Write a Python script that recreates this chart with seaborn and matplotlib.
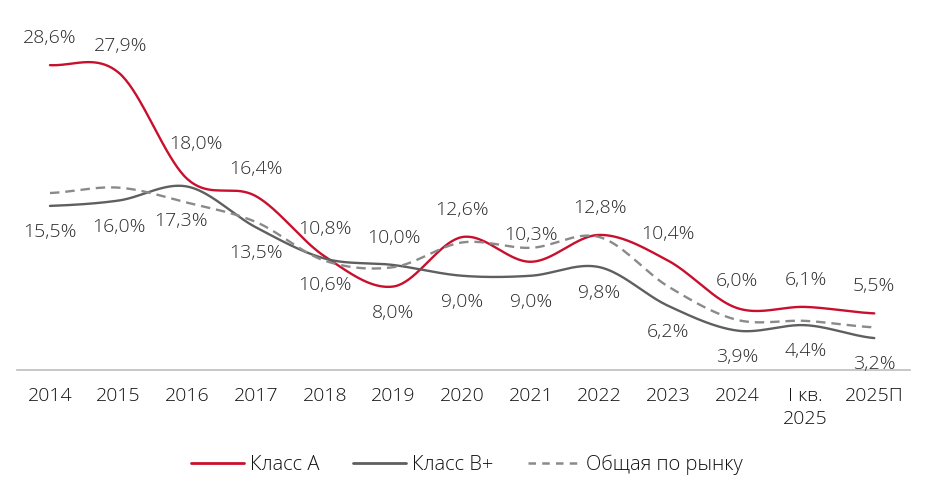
import numpy as np
import pandas as pd
import matplotlib
matplotlib.use("Agg")
import matplotlib.pyplot as plt
import seaborn as sns
from matplotlib.lines import Line2D

categories = ["2014", "2015", "2016", "2017", "2018", "2019", "2020", "2021",
              "2022", "2023", "2024", "I кв.\n2025", "2025П"]
class_a = [28.6, 27.9, 18.0, 16.4, 10.8, 8.0, 12.6, 10.3, 12.8, 10.4, 6.0, 6.1, 5.5]
class_b = [15.5, 16.0, 17.3, 13.5, 10.6, 10.0, 9.0, 9.0, 9.8, 6.2, 3.9, 4.4, 3.2]
market = [16.7, 17.2, 15.8, 14.0, 10.4, 9.8, 12.1, 11.6, 12.6, 8.0, 4.9, 4.8, 4.2]
series_names = ["Класс А", "Класс В+", "Общая по рынку"]

RED = "#c8102e"
GRAY = "#5f5f5f"
DASH = "#8a8a8a"

# label nudges (pixels) for the upper / lower value labels
up_nudge = {1: (2, 0), 2: (9, 8)}
lo_nudge = {2: (-6, -8)}


def smooth(y, n=40):
    """Catmull-Rom smoothing (like Excel's smoothed line) for drawing."""
    y = np.asarray(y, float)
    p = np.concatenate([[y[0]], y, [y[-1]]])
    xs, ys = [], []
    for i in range(len(y) - 1):
        p0, p1, p2, p3 = p[i], p[i + 1], p[i + 2], p[i + 3]
        m1 = (p2 - p0) / 2
        m2 = (p3 - p1) / 2
        t = np.linspace(0, 1, n, endpoint=(i == len(y) - 2))
        h00 = 2 * t**3 - 3 * t**2 + 1
        h10 = t**3 - 2 * t**2 + t
        h01 = -2 * t**3 + 3 * t**2
        h11 = t**3 - t**2
        xs.append(i + t)
        ys.append(h00 * p1 + h10 * m1 + h01 * p2 + h11 * m2)
    return np.concatenate(xs), np.concatenate(ys)


sns.set_theme(style="white")
plt.rcParams["font.family"] = ["Open Sans", "DejaVu Sans"]

fig = plt.figure(figsize=(9.31, 4.96), dpi=100)
ax = fig.add_axes([17 / 931, 1 - 370 / 496, (910 - 17) / 931, 350 / 496])

frames = []
for name, vals in zip(series_names, [class_a, class_b, market]):
    sx, sy = smooth(vals)
    frames.append(pd.DataFrame({"x": sx, "y": sy, "series": name}))
df = pd.concat(frames, ignore_index=True)

palette = {series_names[0]: RED, series_names[1]: GRAY, series_names[2]: DASH}
dashes = {series_names[0]: "", series_names[1]: "", series_names[2]: (4, 2.5)}
sns.lineplot(data=df, x="x", y="y", hue="series", style="series",
             palette=palette, dashes=dashes, linewidth=1.7, sort=False,
             estimator=None, legend=False, ax=ax)

ax.set_xlim(-0.48, 12.52)
ax.set_ylim(0.23, 32.8)
ax.set_xticks(range(len(categories)))
ax.set_xticklabels(categories, linespacing=1.4,
                   family=["Open Sans", "DejaVu Sans"], fontweight="light")
ax.set_yticks([])
ax.set_xlabel("")
ax.set_ylabel("")
for s in ["top", "left", "right"]:
    ax.spines[s].set_visible(False)
ax.spines["bottom"].set_color("#bdbdbd")
ax.spines["bottom"].set_linewidth(1.2)
ax.tick_params(axis="x", length=0, pad=12, labelsize=14, labelcolor="#111111")
for lbl in ax.get_xticklabels():
    lbl.set_va("top")


def fmt(v):
    return f"{v:.1f}".replace(".", ",") + "%"


for i, (a, b) in enumerate(zip(class_a, class_b)):
    hi, lo = (a, b) if a >= b else (b, a)
    ux, uy = up_nudge.get(i, (0, 0))
    lx, ly = lo_nudge.get(i, (0, 0))
    ax.annotate(fmt(hi), (i, hi), xytext=(ux, 27 + uy), textcoords="offset pixels",
                ha="center", va="center", fontsize=14, color="#2b2b2b",
                fontweight="light")
    ax.annotate(fmt(lo), (i, lo), xytext=(lx, -26 + ly), textcoords="offset pixels",
                ha="center", va="center", fontsize=14, color="#2b2b2b",
                fontweight="light")

handles = [Line2D([], [], color=RED, lw=2),
           Line2D([], [], color=GRAY, lw=2),
           Line2D([], [], color=DASH, lw=1.8, dashes=(3, 2.5))]
fig.legend(handles, series_names, loc="center",
           bbox_to_anchor=(467 / 931, 1 - 465 / 496), ncol=3, frameon=False,
           prop={"family": ["Open Sans", "DejaVu Sans"], "size": 14.5, "weight": "light"},
           handlelength=2.6, handletextpad=0.3,
           columnspacing=1.7, labelcolor="#111111")

fig.savefig("out.png", dpi=100)
